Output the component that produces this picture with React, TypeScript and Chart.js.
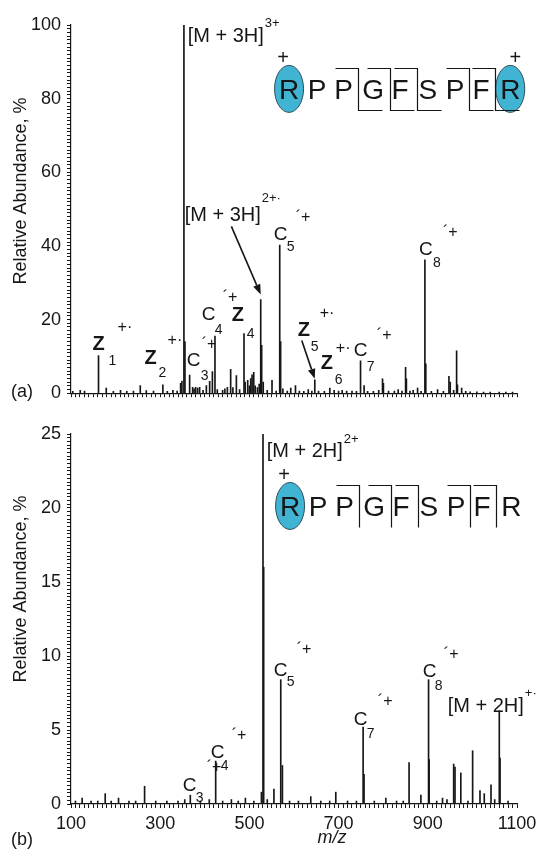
import React, { useEffect, useRef } from 'react';
import { Chart, registerables } from 'chart.js';

Chart.register(...registerables);

const FONT = '"Liberation Sans", Arial, Helvetica, sans-serif';
const INK = '#161616';
const OVAL = '#41b3d3';

// ---------- data: panel (a), [M + 3H]3+ ETD spectrum ----------
const mzA = [104, 120.7, 130.3, 161.7, 179, 195, 211, 225, 240, 255.3, 268.8, 285, 306, 316, 328.5, 338, 345.8, 348.7, 353.2, 355.5,
  366, 372.7, 376, 379.5, 384, 388.4, 396, 403.5, 410.9, 417, 422.8, 428, 440, 445, 450.6, 458, 463, 470.8, 478, 487.9,
  490.5, 496.2, 500, 503, 506, 509.7, 513, 518, 522, 525.4, 527.5, 531, 540, 550.7, 560, 568, 570, 575, 585, 592.7,
  603.3, 612, 622, 632, 640, 646.6, 655, 668, 680.3, 690, 700, 708, 718, 730, 740, 749.2, 757.2, 765, 778, 790,
  798.5, 800.5, 812, 825, 833.6, 842, 850.2, 852, 860, 867.2, 877.1, 885, 893.5, 895.5, 908, 922, 935, 947.4, 950.3, 958,
  964.6, 966.5, 975.9, 985, 995, 1010, 1025, 1040, 1060, 1075, 1090];
const abA = [0.5, 0.8, 0.6, 10.2, 1.4, 0.5, 0.8, 0.5, 0.6, 2.1, 0.7, 0.6, 2.3, 0.5, 0.8, 0.6, 2.7, 3.3, 100, 14,
  4.9, 1.6, 1.2, 1.6, 1.4, 1.6, 0.8, 2.1, 3.2, 5.9, 15.5, 1.0, 0.8, 1.2, 1.6, 6.5, 1.5, 4.8, 1.0, 16.2,
  3.0, 3.5, 2.0, 4.0, 5.0, 5.7, 2.0, 1.5, 2.5, 25.4, 13, 3.0, 0.8, 3.5, 0.6, 40.2, 14, 1.2, 0.6, 1.4,
  2.1, 0.6, 0.5, 1.0, 0.6, 3.6, 0.6, 0.5, 1.4, 0.8, 0.6, 0.8, 0.6, 0.6, 0.5, 8.8, 2.1, 0.5, 0.5, 0.8,
  3.9, 2.7, 0.6, 0.6, 1.0, 0.6, 7.0, 3.9, 0.6, 0.8, 1.4, 0.5, 36.2, 8, 0.5, 1.0, 0.5, 4.6, 3.0, 0.8,
  11.5, 2.3, 1.4, 0.5, 0.4, 0.4, 0.3, 0.3, 0.3, 0.3, 0.3];

// ---------- data: panel (b), [M + 2H]2+ ETD spectrum ----------
const mzB = [110, 125, 145, 160, 176.7, 190, 206.6, 230, 245, 265, 290, 315, 340, 355, 367.5, 390, 410, 424.4, 440, 459.6,
  475, 491, 510, 527, 530.5, 532, 540, 555, 570.3, 574, 590, 610, 637.6, 660, 680, 693.7, 720, 740, 755, 757,
  780, 806, 830, 845, 858, 884.5, 901.7, 903, 920, 933, 943, 958, 961, 974, 990, 1000.5, 1017, 1026.6, 1041.7, 1050,
  1060.3, 1062, 1080];
const abB = [0.2, 0.4, 0.2, 0.2, 0.7, 0.2, 0.4, 0.2, 0.2, 1.2, 0.2, 0.2, 0.2, 0.3, 0.6, 0.2, 0.3, 2.9, 0.2, 0.3,
  0.2, 0.4, 0.2, 0.8, 25, 16, 0.3, 1.0, 8.4, 2.6, 0.2, 0.2, 0.5, 0.2, 0.2, 0.8, 0.2, 0.2, 5.2, 2.0,
  0.2, 0.4, 0.2, 0.2, 2.8, 0.6, 8.4, 3.0, 0.2, 0.4, 0.3, 2.7, 2.5, 2.1, 0.2, 3.6, 0.9, 0.7, 1.3, 0.3,
  6.3, 3.1, 0.2];

// ---------- tick labels ----------
const xTickLabels = [100, 300, 500, 700, 900, 1100];
const yTickLabelsA = [0, 20, 40, 60, 80, 100];
const yTickLabelsB = [0, 5, 10, 15, 20, 25];

// ---------- annotations ----------
type Ion = { ion: string; n: string; sup?: string; mz: number; ab: number; bold?: boolean; sub: number[]; supOff?: number[] };

const ionsA: Ion[] = [
  { ion: 'Z', n: '1', sup: '+·', mz: 148.3, ab: 11.6, bold: true, sub: [15, 15], supOff: [25, -23] },
  { ion: 'Z', n: '2', sup: '+·', mz: 265.0, ab: 7.8, bold: true, sub: [13, 13], supOff: [23, -23.5] },
  { ion: 'C', n: '3', sup: '´+', mz: 359.3, ab: 7.5, sub: [13, 14], supOff: [15, -21] },
  { ion: 'C', n: '4', sup: '´+', mz: 392.9, ab: 19.9, sub: [12, 14], supOff: [21, -22] },
  { ion: 'Z', n: '4', mz: 460.3, ab: 19.7, bold: true, sub: [14, 17] },
  { ion: 'C', n: '5', sup: '´+', mz: 554.6, ab: 41.5, sub: [12, 11], supOff: [22, -23] },
  { ion: 'Z', n: '5', sup: '+·', mz: 608.4, ab: 15.6, bold: true, sub: [12, 15], supOff: [22, -22] },
  { ion: 'Z', n: '6', sup: '+·', mz: 660.1, ab: 6.5, bold: true, sub: [13, 15], supOff: [15, -20.5] },
  { ion: 'C', n: '7', sup: '´+', mz: 734.1, ab: 10.2, sub: [12, 15], supOff: [23, -20.5] },
  { ion: 'C', n: '8', sup: '´+', mz: 880.0, ab: 37.5, sub: [13, 12], supOff: [24, -22.5] },
];
const ionsB: Ion[] = [
  { ion: 'C', n: '3', sup: '´+', mz: 350.3, ab: 0.85, sub: [12, 11], supOff: [24, -23.7] },
  { ion: 'C', n: '4', sup: '´+', mz: 413.1, ab: 3.13, sub: [9, 12], supOff: [21, -22] },
  { ion: 'C', n: '5', sup: '´+', mz: 554.6, ab: 8.62, sub: [12, 10], supOff: [23, -26.7] },
  { ion: 'C', n: '7', sup: '´+', mz: 734.1, ab: 5.36, sub: [12, 13], supOff: [24, -23] },
  { ion: 'C', n: '8', sup: '´+', mz: 888.9, ab: 8.6, sub: [11, 13], supOff: [21, -22] },
];

type Label = { text: string; sup: string; mz: number; ab: number; supDy: number };
const precursorA: Label[] = [
  { text: '[M + 3H]', sup: '3+', mz: 361.5, ab: 95.4, supDy: -15 },
  { text: '[M + 3H]', sup: '2+·', mz: 354.8, ab: 46.9, supDy: -19 },
];
const precursorB: Label[] = [
  { text: '[M + 2H]', sup: '2+', mz: 538.8, ab: 23.47, supDy: -14 },
  { text: '[M + 2H]', sup: '+·', mz: 944.6, ab: 6.24, supDy: -15 },
];

const arrowsA = [
  { from: [459.6, 45.3], to: [525.4, 26.8] },
  { from: [617.4, 14.3], to: [646.6, 3.9] },
];

const sequence = ['R', 'P', 'P', 'G', 'F', 'S', 'P', 'F', 'R'];
const seqOffsets = [0, 28, 54.5, 84, 111, 138.7, 166, 192, 221.2];
const cutOffsets = [69, 100.7, 127.5, 179.5, 206.2];

type Seq = { mz: number; ab: number; ovals: number[]; plus: number[][]; zCuts: boolean };
const seqA: Seq = { mz: 588.9, ab: 79.8, ovals: [0, 8], plus: [[-6, -40.7], [226.2, -40.7]], zCuts: true };
const seqB: Seq = { mz: 591.2, ab: 19.43, ovals: [0], plus: [[-6, -41]], zCuts: false };

type PanelCfg = {
  key: string;
  mz: number[];
  ab: number[];
  ymax: number;
  yStep: number;
  yLabels: number[];
  showX: boolean;
  height: number;
  padTop: number;
  xAxisH: number;
  ions: Ion[];
  precursors: Label[];
  arrows: { from: number[]; to: number[] }[];
  seq: Seq;
  titleY: number;
  tag: string;
  tagY: number;
  mzLabel?: number[];
};

function annoPlugin(cfg: PanelCfg) {
  return {
    id: 'anno' + cfg.key,
    afterDraw(chart: any) {
      const ctx: CanvasRenderingContext2D = chart.ctx;
      const xs = chart.scales.x;
      const ys = chart.scales.y;
      const X = (m: number) => xs.getPixelForValue(m);
      const Y = (v: number) => ys.getPixelForValue(v);
      ctx.save();
      ctx.fillStyle = INK;
      ctx.strokeStyle = INK;

      // y axis title
      ctx.save();
      ctx.translate(21, cfg.titleY);
      ctx.rotate(-Math.PI / 2);
      ctx.font = `18px ${FONT}`;
      ctx.textAlign = 'center';
      ctx.textBaseline = 'middle';
      ctx.fillText('Relative Abundance, %', 0, 0);
      ctx.restore();

      // panel tag
      ctx.font = `18px ${FONT}`;
      ctx.textAlign = 'left';
      ctx.textBaseline = 'middle';
      ctx.fillText(cfg.tag, 11, cfg.tagY);

      if (cfg.mzLabel) {
        ctx.font = `italic 18px ${FONT}`;
        ctx.textAlign = 'center';
        ctx.fillText('m/z', cfg.mzLabel[0], cfg.mzLabel[1]);
      }

      // ion labels
      for (const l of cfg.ions) {
        const x = X(l.mz);
        const y = Y(l.ab);
        ctx.textAlign = 'left';
        ctx.textBaseline = 'alphabetic';
        ctx.font = `${l.bold ? 'bold 20px' : '19px'} ${FONT}`;
        ctx.fillText(l.ion, x, y);
        ctx.font = `14px ${FONT}`;
        ctx.fillText(l.n, x + l.sub[0] + 1, y + l.sub[1]);
        if (l.sup && l.supOff) {
          ctx.textBaseline = 'middle';
          ctx.font = `16px ${FONT}`;
          ctx.fillText(l.sup, x + l.supOff[0], y + l.supOff[1]);
        }
      }

      // precursor labels
      for (const p of cfg.precursors) {
        const x = X(p.mz);
        const y = Y(p.ab);
        ctx.textAlign = 'left';
        ctx.textBaseline = 'alphabetic';
        ctx.font = `20px ${FONT}`;
        ctx.fillText(p.text, x, y);
        const w = ctx.measureText(p.text).width;
        ctx.font = `13px ${FONT}`;
        ctx.fillText(p.sup, x + w + 1, y + p.supDy);
      }

      // arrows
      ctx.lineWidth = 1.6;
      for (const a of cfg.arrows) {
        const x1 = X(a.from[0]), y1 = Y(a.from[1]);
        const x2 = X(a.to[0]), y2 = Y(a.to[1]);
        const ang = Math.atan2(y2 - y1, x2 - x1);
        const L = 10, H = 3.8;
        const bx = x2 - L * Math.cos(ang), by = y2 - L * Math.sin(ang);
        ctx.beginPath();
        ctx.moveTo(x1, y1);
        ctx.lineTo(bx, by);
        ctx.stroke();
        ctx.beginPath();
        ctx.moveTo(x2, y2);
        ctx.lineTo(bx + H * Math.sin(ang), by - H * Math.cos(ang));
        ctx.lineTo(bx - H * Math.sin(ang), by + H * Math.cos(ang));
        ctx.closePath();
        ctx.fill();
      }

      // peptide sequence graphic
      const s = cfg.seq;
      const cx0 = X(s.mz);
      const base = Y(s.ab);
      for (const i of s.ovals) {
        ctx.beginPath();
        ctx.ellipse(cx0 + seqOffsets[i], base - 10.5, 14.5, 23.5, 0, 0, Math.PI * 2);
        ctx.fillStyle = OVAL;
        ctx.fill();
        ctx.lineWidth = 1;
        ctx.strokeStyle = '#2d4f5c';
        ctx.stroke();
      }
      ctx.fillStyle = INK;
      ctx.strokeStyle = INK;
      ctx.font = `28px ${FONT}`;
      ctx.textAlign = 'center';
      ctx.textBaseline = 'alphabetic';
      sequence.forEach((ch, i) => ctx.fillText(ch, cx0 + seqOffsets[i], base));
      ctx.lineWidth = 1.2;
      for (const c of cutOffsets) {
        const x = Math.round(cx0 + c) + 0.5;
        const top = Math.round(base - 31.7) + 0.5;
        const bot = Math.round(base + 11) + 0.5;
        ctx.beginPath();
        ctx.moveTo(x - 23, top);
        ctx.lineTo(x, top);
        ctx.lineTo(x, bot);
        if (s.zCuts) ctx.lineTo(x + 24, bot);
        ctx.stroke();
      }
      ctx.font = `20px ${FONT}`;
      ctx.textBaseline = 'middle';
      for (const p of s.plus) ctx.fillText('+', cx0 + p[0], base + p[1]);

      ctx.restore();
    },
  };
}

function makeChart(canvas: HTMLCanvasElement, cfg: PanelCfg) {
  const ticksFont = { family: FONT, size: 18 };
  return new Chart(canvas, {
    type: 'bar',
    data: {
      datasets: [
        {
          data: cfg.mz.map((m, i) => ({ x: m, y: cfg.ab[i] })),
          backgroundColor: INK,
          borderWidth: 0,
          barThickness: 1,
        } as any,
      ],
    },
    options: {
      animation: false,
      responsive: false,
      events: [],
      layout: { padding: { top: cfg.padTop, right: 25, left: 0, bottom: 0 } },
      plugins: { legend: { display: false }, tooltip: { enabled: false } },
      scales: {
        x: {
          type: 'linear',
          min: 100,
          max: 1100,
          offset: false,
          grid: { offset: false, drawOnChartArea: false, drawTicks: true, tickLength: 4, color: INK, tickColor: INK, lineWidth: 1 },
          border: { display: true, color: INK, width: 1.2 },
          ticks: {
            stepSize: 10,
            autoSkip: false,
            maxRotation: 0,
            minRotation: 0,
            padding: 5,
            color: INK,
            font: ticksFont,
            callback: (v: any) => (cfg.showX && xTickLabels.includes(Number(v)) ? String(v) : ''),
          },
          afterFit: (s: any) => {
            s.height = cfg.xAxisH;
          },
        },
        y: {
          type: 'linear',
          min: 0,
          max: cfg.ymax,
          grid: { drawOnChartArea: false, drawTicks: true, tickLength: 4, color: INK, tickColor: INK, lineWidth: 1 },
          border: { display: true, color: INK, width: 1.2 },
          ticks: {
            stepSize: cfg.yStep,
            autoSkip: false,
            padding: 6,
            color: INK,
            font: ticksFont,
            callback: (v: any) => (cfg.yLabels.includes(Number(v)) ? String(v) : ''),
          },
          afterFit: (s: any) => {
            s.width = 71;
          },
        },
      },
    } as any,
    plugins: [annoPlugin(cfg)],
  });
}

const panelA: PanelCfg = {
  key: 'a', mz: mzA, ab: abA, ymax: 100, yStep: 1, yLabels: yTickLabelsA, showX: false,
  height: 410, padTop: 25, xAxisH: 14, ions: ionsA, precursors: precursorA, arrows: arrowsA, seq: seqA,
  titleY: 191, tag: '(a)', tagY: 392,
};
const panelB: PanelCfg = {
  key: 'b', mz: mzB, ab: abB, ymax: 25, yStep: 0.25, yLabels: yTickLabelsB, showX: true,
  height: 439, padTop: 24, xAxisH: 45, ions: ionsB, precursors: precursorB, arrows: [], seq: seqB,
  titleY: 179, tag: '(b)', tagY: 430, mzLabel: [332, 428],
};

export default function App() {
  const refA = useRef<HTMLCanvasElement>(null);
  const refB = useRef<HTMLCanvasElement>(null);
  useEffect(() => {
    const a = makeChart(refA.current!, panelA);
    const b = makeChart(refB.current!, panelB);
    return () => {
      a.destroy();
      b.destroy();
    };
  }, []);
  return (
    <div style={{ position: 'fixed', left: 0, top: 0, width: 542, height: 849, background: '#fff', overflow: 'hidden' }}>
      <canvas ref={refA} width={542} height={410} style={{ position: 'absolute', left: 0, top: 0, width: 542, height: 410 }} />
      <canvas ref={refB} width={542} height={439} style={{ position: 'absolute', left: 0, top: 410, width: 542, height: 439 }} />
    </div>
  );
}
